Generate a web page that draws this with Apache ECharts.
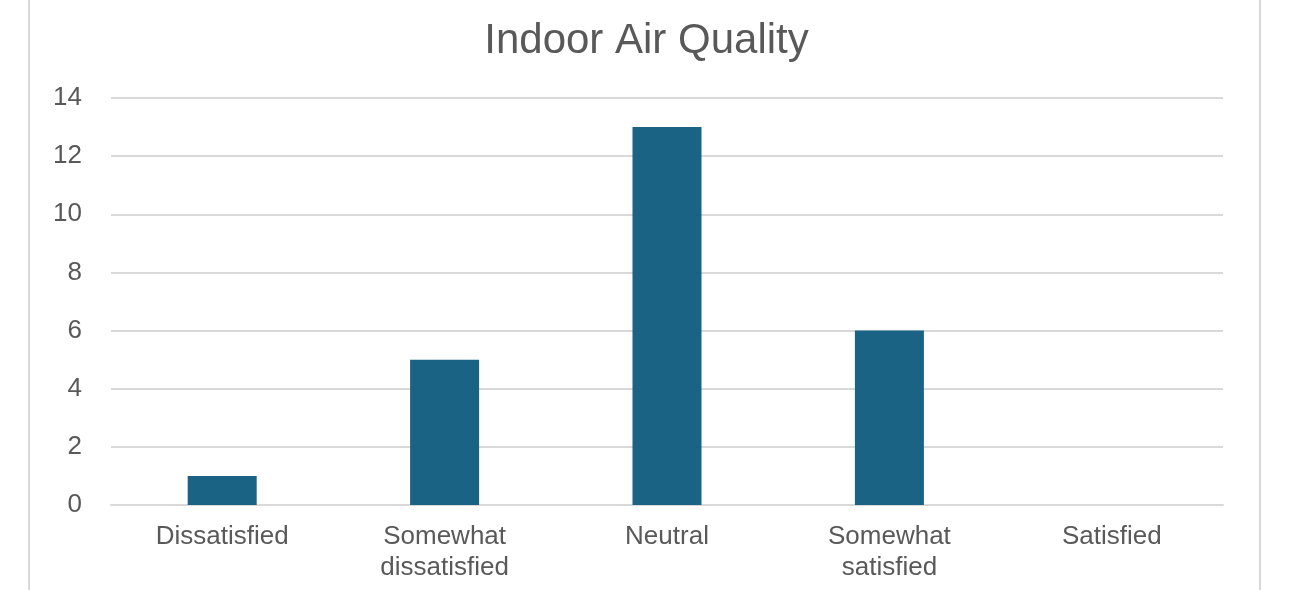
<!DOCTYPE html>
<html><head><meta charset="utf-8">
<script src="https://cdn.jsdelivr.net/npm/echarts@6/dist/echarts.min.js"></script>
<style>html,body{margin:0;padding:0;background:#fff}#c{width:1293px;height:590px}</style>
</head><body><div id="c"></div>
<script>
const title = "Indoor Air Quality";
const categories = ["Dissatisfied", "Somewhat\ndissatisfied", "Neutral", "Somewhat\nsatisfied", "Satisfied"];
const values = [1, 5, 13, 6, 0];
const yTicks = {min: 0, max: 14, interval: 2};

const chart = echarts.init(document.getElementById('c'), null, {renderer: 'canvas'});
chart.setOption({
  animation: false,
  backgroundColor: '#ffffff',
  title: {
    text: title, left: 'center', top: 15,
    textStyle: {fontFamily: 'Liberation Sans', fontSize: 42, fontWeight: 'normal', color: '#595959'}
  },
  graphic: [
    {type: 'line', shape: {x1: 29, y1: 0, x2: 29, y2: 590}, style: {stroke: '#d9d9d9', lineWidth: 2}, silent: true},
    {type: 'line', shape: {x1: 1260, y1: 0, x2: 1260, y2: 590}, style: {stroke: '#d9d9d9', lineWidth: 2}, silent: true}
  ],
  grid: {left: 111, right: 70, top: 98, bottom: 85, containLabel: false},
  xAxis: {
    type: 'category', data: categories,
    axisLine: {show: true, lineStyle: {color: '#d9d9d9', width: 2}},
    axisTick: {show: false},
    axisLabel: {fontFamily: 'Liberation Sans', fontSize: 26, color: '#595959', margin: 16, lineHeight: 31, interval: 0}
  },
  yAxis: {
    type: 'value', min: yTicks.min, max: yTicks.max, interval: yTicks.interval,
    axisLine: {show: false}, axisTick: {show: false},
    splitLine: {lineStyle: {color: '#d9d9d9', width: 2}},
    axisLabel: {fontFamily: 'Liberation Sans', fontSize: 26, color: '#595959', margin: 29}
  },
  series: [{
    type: 'bar', data: values, barWidth: 69,
    itemStyle: {color: '#1a6384'}
  }]
});
</script></body></html>
